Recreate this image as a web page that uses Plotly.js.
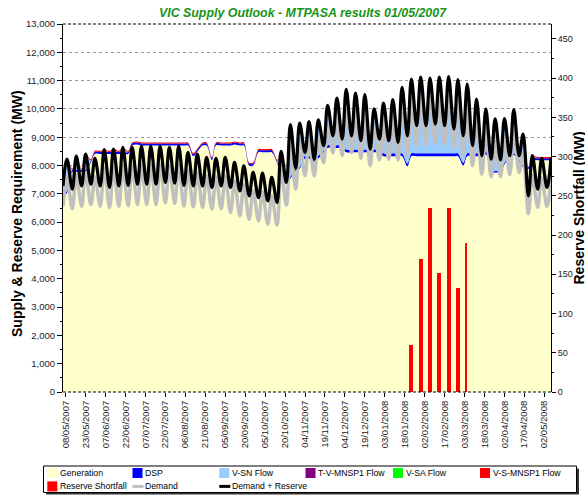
<!DOCTYPE html>
<html><head><meta charset="utf-8">
<script src="https://cdn.plot.ly/plotly-3.0.1.min.js"></script>
<style>html,body{margin:0;padding:0;background:#fff;}#chart{width:585px;height:496px;}</style>
</head><body><div id="chart"></div>
<script>
const chartTitle = 'VIC Supply Outlook - MTPASA results 01/05/2007';
const yTitle = 'Supply & Reserve Requirement (MW)';
const y2Title = 'Reserve Shortfall (MW)';
const seriesNames = ['Generation','DSP','V-SN Flow','T-V-MNSP1 Flow','V-SA Flow','V-S-MNSP1 Flow','Reserve Shortfall','Demand','Demand + Reserve'];

// weekly low (Sunday) and high (Wednesday) points
const dates = [
'2007-05-06','2007-05-09','2007-05-13','2007-05-16','2007-05-20','2007-05-23','2007-05-27','2007-05-30',
'2007-06-03','2007-06-06','2007-06-10','2007-06-13','2007-06-17','2007-06-20','2007-06-24','2007-06-27',
'2007-07-01','2007-07-04','2007-07-08','2007-07-11','2007-07-15','2007-07-18','2007-07-22','2007-07-25',
'2007-07-29','2007-08-01','2007-08-05','2007-08-08','2007-08-12','2007-08-15','2007-08-19','2007-08-22',
'2007-08-26','2007-08-29','2007-09-02','2007-09-05','2007-09-09','2007-09-12','2007-09-16','2007-09-19',
'2007-09-23','2007-09-26','2007-09-30','2007-10-03','2007-10-07','2007-10-10','2007-10-14','2007-10-17',
'2007-10-21','2007-10-24','2007-10-28','2007-10-31','2007-11-04','2007-11-07','2007-11-11','2007-11-14',
'2007-11-18','2007-11-21','2007-11-25','2007-11-28','2007-12-02','2007-12-05','2007-12-09','2007-12-12',
'2007-12-16','2007-12-19','2007-12-23','2007-12-26','2007-12-30','2008-01-02','2008-01-06','2008-01-09',
'2008-01-13','2008-01-16','2008-01-20','2008-01-23','2008-01-27','2008-01-30','2008-02-03','2008-02-06',
'2008-02-10','2008-02-13','2008-02-17','2008-02-20','2008-02-24','2008-02-27','2008-03-02','2008-03-05',
'2008-03-09','2008-03-12','2008-03-16','2008-03-19','2008-03-23','2008-03-26','2008-03-30','2008-04-02',
'2008-04-06','2008-04-09','2008-04-13','2008-04-16','2008-04-20','2008-04-23','2008-04-27','2008-04-30',
'2008-05-04','2008-05-07'];

const generation = [
6930,7030,7780,7780,7780,7780,8115,8410,
8410,8410,8410,8410,8410,8410,8410,8705,
8740,8705,8705,8705,8705,8705,8705,8705,
8705,8705,8705,8705,8330,8490,8705,8705,
8190,8705,8705,8705,8705,8740,8705,8705,
8000,8000,8470,8470,8470,8470,8090,7630,
7400,7540,7810,7890,8245,8245,8125,8245,
8450,8620,8620,8620,8620,8470,8470,8470,
8470,8470,8470,8470,8470,8330,8330,8330,
8330,8330,7975,8330,8330,8330,8330,8330,
8330,8330,8330,8330,8330,8330,8000,8330,
8330,8330,8330,8400,7750,7750,7790,8040,
8340,8370,8140,7940,7880,8190,8190,8190,
8190,8190];

const dsp = [
70,70,70,70,70,70,70,70,
70,70,70,70,70,70,70,70,
70,70,70,70,70,70,70,70,
70,70,70,70,70,70,70,70,
70,70,70,70,70,70,70,70,
70,70,70,70,70,70,70,70,
60,60,60,60,100,100,100,100,
100,100,100,100,100,100,100,100,
100,100,100,100,100,100,100,100,
100,100,100,100,100,100,100,100,
100,100,100,100,100,100,100,100,
100,100,100,100,60,60,60,60,
60,60,60,60,70,70,70,70,
70,70];

const vsnFlow = [
240,1090,0,440,0,510,0,0,
0,40,0,60,0,120,0,0,
0,0,0,0,0,0,0,0,
0,0,0,0,0,0,0,0,
0,0,0,0,0,0,0,0,
0,0,0,0,0,0,0,760,
0,1820,30,1520,120,1175,0,1235,
150,1380,330,1630,215,2090,480,1955,
305,1910,10,1400,365,1745,445,1720,
390,1955,975,2140,975,2210,975,2180,
1035,2210,975,2185,860,2130,950,2070,
270,1790,0,1460,415,1660,350,1280,
0,1120,145,1080,0,50,0,0,
0,0];

const tvMnsp1Flow = [
0,0,0,0,0,0,0,0,
0,0,0,0,0,0,0,0,
0,0,0,0,0,0,0,0,
0,0,0,0,0,0,0,0,
0,0,0,0,0,0,0,0,
0,0,0,0,0,0,0,0,
0,0,0,0,0,0,0,0,
0,0,0,0,0,0,0,0,
0,0,0,0,0,0,0,150,
0,350,0,450,0,450,0,450,
0,450,0,500,0,450,0,350,
0,100,0,0,0,150,0,250,
0,300,0,0,0,0,0,0,
0,0];

const vsaFlow = [
0,0,0,0,0,0,0,0,
0,0,0,0,0,0,0,0,
0,0,0,0,0,0,0,0,
0,0,0,0,0,0,0,0,
0,0,0,0,0,0,0,0,
0,0,0,0,0,0,0,0,
0,0,0,0,0,0,0,0,
0,0,0,0,0,0,0,0,
0,0,0,0,0,0,0,0,
0,0,0,0,0,0,0,0,
0,0,0,0,0,0,0,0,
0,0,0,0,0,0,0,0,
0,100,0,0,0,0,0,0,
0,0];

const vsMnsp1Flow = [
40,40,40,40,40,40,40,40,
40,40,40,40,40,40,40,40,
40,40,40,40,40,40,40,40,
40,40,40,40,40,40,40,40,
40,40,40,40,40,40,40,40,
40,40,40,40,40,40,40,40,
0,30,0,30,0,30,0,30,
0,30,0,30,0,30,0,30,
0,30,0,30,0,30,0,30,
0,30,0,30,0,30,0,30,
0,30,0,30,0,30,0,30,
0,30,0,30,0,30,0,30,
0,30,0,30,0,40,40,40,
40,40];

const demand = [
6560,7580,6470,7680,6560,7750,6620,7600,
6560,7910,6510,7930,6560,7990,6580,7990,
6620,8020,6620,8020,6620,8020,6680,7990,
6660,8020,6560,7820,6540,7750,6520,7640,
6460,7600,6470,7630,6340,7460,6220,7340,
6100,7110,6045,7080,5925,6930,5900,7850,
6600,8780,7150,8820,7635,8860,7635,8920,
8100,9430,8450,9680,8350,9990,8450,9860,
8250,9810,7990,9300,8200,9500,8225,9630,
8200,10060,8400,10350,8700,10420,8720,10390,
8780,10420,8720,10440,8620,10340,8380,10180,
7990,9650,7700,9290,7600,8950,7600,8960,
7680,9280,7750,8410,6300,7650,6520,7560,
6560,7590];

const demandReserve = [
7280,8230,7170,8330,7280,8400,7340,8250,
7280,8560,7230,8580,7280,8640,7300,8640,
7340,8675,7340,8675,7340,8675,7400,8640,
7380,8675,7300,8470,7280,8400,7280,8290,
7230,8250,7280,8285,7225,8110,7105,7990,
6930,7760,6870,7730,6750,7580,6700,8500,
7400,9450,7900,9500,8465,9550,8225,9610,
8700,10130,9050,10380,8935,10690,9050,10555,
8875,10510,8580,10000,8935,10205,8875,10330,
8820,10765,9050,11050,9405,11120,9405,11090,
9465,11120,9405,11145,9290,11040,9050,10880,
8700,10350,8345,9990,8225,9650,8200,9660,
8345,9980,8345,9110,6930,8350,7165,8250,
7225,8280];

const shortfallDates = ['2008-01-23','2008-01-30','2008-02-06','2008-02-13','2008-02-20','2008-02-27','2008-03-04'];
const shortfall = [60, 169, 235, 152, 235, 133, 190];

const tickDates = ['2007-05-08','2007-05-23','2007-06-07','2007-06-22','2007-07-07','2007-07-22','2007-08-06',
'2007-08-21','2007-09-05','2007-09-20','2007-10-05','2007-10-20','2007-11-04','2007-11-19','2007-12-04',
'2007-12-19','2008-01-03','2008-01-18','2008-02-02','2008-02-17','2008-03-03','2008-03-18','2008-04-02',
'2008-04-17','2008-05-02'];

// ---------- styling ----------
const FONT = 'Liberation Sans, Arial, sans-serif';
const colors = ['#FFFFCC','#0000FF','#99CCFF','#800080','#00FF00','#FF0000','#FF0000','#C0C0C0','#000000'];
const stackSeries = [generation, dsp, vsnFlow, tvMnsp1Flow, vsaFlow, vsMnsp1Flow];
const DAY = 86400000;

const traces = stackSeries.map((vals, i) => ({
  type: 'scatter', mode: 'lines', x: dates, y: vals, name: seriesNames[i],
  stackgroup: 'supply', fillcolor: colors[i],
  line: {shape: 'spline', smoothing: 1, width: 0, color: colors[i]},
  showlegend: false, hoverinfo: 'skip'
}));
traces.push({
  type: 'bar', x: shortfallDates, y: shortfall, name: seriesNames[6], yaxis: 'y2',
  width: [3*DAY, 3*DAY, 3*DAY, 3*DAY, 3*DAY, 3*DAY, 1.5*DAY],
  marker: {color: colors[6], line: {width: 0}}, showlegend: false, hoverinfo: 'skip'
});
traces.push({
  type: 'scatter', mode: 'lines', x: dates, y: demand, name: seriesNames[7],
  line: {shape: 'spline', smoothing: 1, width: 3.5, color: colors[7]}, showlegend: false, hoverinfo: 'skip'
});
traces.push({
  type: 'scatter', mode: 'lines', x: dates, y: demandReserve, name: seriesNames[8],
  line: {shape: 'spline', smoothing: 1, width: 3.2, color: colors[8]}, showlegend: false, hoverinfo: 'skip'
});

// plot area in pixels
const PL = 63, PW = 488, PT = 24, PH = 368;
const px = x => (x - PL) / PW;
const py = y => (PT + PH - y) / PH;

const shapes = [
  {type:'line', xref:'paper', yref:'paper', x0:0, x1:1, y0:1, y1:1, line:{color:'#000', width:1, dash:'3px,2px'}},
  {type:'line', xref:'paper', yref:'paper', x0:0, x1:1, y0:0, y1:0, line:{color:'#000', width:1, dash:'3px,2px'}},
  // legend shadow + box
  {type:'rect', xref:'paper', yref:'paper', x0:px(46), x1:px(579), y0:py(494.5), y1:py(468.5), fillcolor:'#333', line:{width:0}},
  {type:'rect', xref:'paper', yref:'paper', x0:px(43.5), x1:px(576.5), y0:py(492.5), y1:py(466), fillcolor:'#fff', line:{color:'#000', width:1}}
];
const annotations = [
  {text: yTitle, xref:'paper', yref:'paper', x: px(17), y: py(214), textangle:-90, showarrow:false,
   xanchor:'center', yanchor:'middle', font:{family: FONT, size:14, weight:'bold', color:'#000'}},
  {text: y2Title, xref:'paper', yref:'paper', x: px(578.5), y: py(208), textangle:-90, showarrow:false,
   xanchor:'center', yanchor:'middle', font:{family: FONT, size:14, weight:'bold', color:'#000'}}
];
// legend items: [series index, column, row, kind]
const legendItems = [[0,0,0,'box'],[1,1,0,'box'],[2,2,0,'box'],[3,3,0,'box'],[4,4,0,'box'],[5,5,0,'box'],
                     [6,0,1,'box'],[7,1,1,'line'],[8,2,1,'line']];
const colX = [47.3, 132.5, 219.3, 305.5, 393, 480];
const rowY = [473, 486.4];
legendItems.forEach(([si, c, r, kind]) => {
  const x0 = colX[c], yc = rowY[r];
  if (kind === 'box') {
    shapes.push({type:'rect', xref:'paper', yref:'paper', x0:px(x0), x1:px(x0+10), y0:py(yc+5), y1:py(yc-5),
                 fillcolor: colors[si], line:{width:0}});
  } else {
    shapes.push({type:'line', xref:'paper', yref:'paper', x0:px(x0), x1:px(x0+11), y0:py(yc), y1:py(yc),
                 line:{color: colors[si], width:3}});
  }
  annotations.push({text: seriesNames[si], xref:'paper', yref:'paper', x: px(x0+10.5), y: py(yc),
                    xanchor:'left', yanchor:'middle', showarrow:false,
                    font:{family: FONT, size:8.7, color:'#000'}});
});

const tickFont = {family: FONT, size: 9.5, color: '#222'};
const layout = {
  width: 585, height: 496,
  margin: {l: PL, r: 585 - PL - PW, t: PT, b: 496 - PT - PH, pad: 0},
  paper_bgcolor: '#fff', plot_bgcolor: '#fff',
  font: {family: FONT, size: 10, color: '#222'},
  showlegend: false,
  title: {text: chartTitle, xref:'container', yref:'container', x: 302.5/585, y: 1 - 13/496,
          xanchor:'center', yanchor:'middle',
          font: {family: FONT, size: 12.4, color: '#169416', weight:'bold', style:'italic'}},
  bargap: 0,
  xaxis: {type:'date', range:['2007-05-06','2008-05-07'], tickvals: tickDates, tickformat:'%d/%m/%Y',
          tickangle:-90, ticks:'outside', ticklen:4, tickcolor:'#000', showgrid:false, zeroline:false,
          showline:false, tickfont: tickFont, fixedrange:true},
  yaxis: {range:[0,13000], dtick:1000, tick0:0, tickformat:',d', ticks:'outside', ticklen:5, tickcolor:'#000',
          showline:true, linecolor:'#000', linewidth:1, showgrid:true, gridcolor:'#999', griddash:'dot', gridwidth:1,
          zeroline:false, tickfont: tickFont,
          minor:{dtick:500, ticks:'outside', ticklen:2, tickcolor:'#000', showgrid:false}, fixedrange:true},
  yaxis2: {overlaying:'y', side:'right', range:[0,469], dtick:50, tick0:0, ticks:'outside', ticklen:4, tickcolor:'#000',
           showline:true, linecolor:'#000', linewidth:1, showgrid:false, zeroline:false,
           tickfont: {family: FONT, size: 9, color: '#222'},
           minor:{dtick:25, ticks:'outside', ticklen:2, tickcolor:'#000', showgrid:false}, fixedrange:true},
  shapes: shapes,
  annotations: annotations
};

Plotly.newPlot('chart', traces, layout, {staticPlot: true, displayModeBar: false});
</script>
</body></html>
